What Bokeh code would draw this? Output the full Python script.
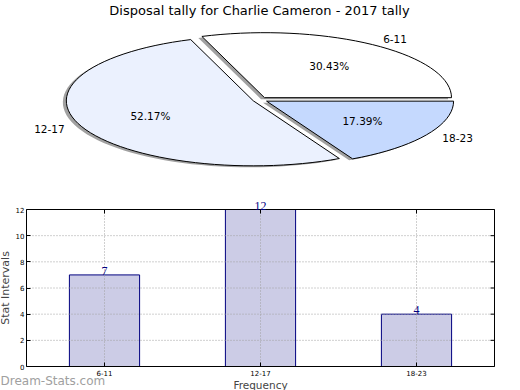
import math
from bokeh.plotting import figure
from bokeh.layouts import column
from bokeh.models import (Range1d, Label, LabelSet, ColumnDataSource, FixedTicker,
                          FactorRange, LinearAxis, CategoricalAxis)
from bokeh.embed import file_html
from bokeh.resources import INLINE

title_text = "Disposal tally for Charlie Cameron - 2017 tally"
categories = ["6-11", "12-17", "18-23"]
counts = [7, 12, 4]
pie_colors = ["#ffffff", "#ebf1fe", "#c5d9fe"]
y_label = "Stat Intervals"
x_label = "Frequency"
watermark = "Dream-Stats.com"
y_ticks = [0, 2, 4, 6, 8, 10, 12]

FONT = "DejaVu Sans"
W = 520

# ---------- pie (frame covers the whole figure, 1 unit = 1 px) ----------
PH = 193
pie = figure(frame_width=W, frame_height=PH, x_range=Range1d(0, W), y_range=Range1d(PH, 0),
             output_backend="svg", toolbar_location=None, min_border=0,
             x_axis_location=None, y_axis_location=None)
pie.grid.visible = False
pie.outline_line_color = None

cx, cy = 259.7, 99.3
rx, ry = 187.0, 65.0
explode = 0.04
total = float(sum(counts))

shadow_xs, shadow_ys, xs, ys = [], [], [], []
lab_x, lab_y, lab_align, pct_x, pct_y, pct_txt = [], [], [], [], [], []
start = 0.0
for c in counts:
    frac = c / total
    t1, t2 = start, start + frac * 2 * math.pi
    mid = (t1 + t2) / 2
    ax = cx + explode * rx * math.cos(mid)
    ay = cy - explode * ry * math.sin(mid)
    n_pts = max(8, int(120 * frac))
    px = [ax] + [ax + rx * math.cos(t1 + (t2 - t1) * i / n_pts) for i in range(n_pts + 1)]
    py = [ay] + [ay - ry * math.sin(t1 + (t2 - t1) * i / n_pts) for i in range(n_pts + 1)]
    xs.append(px)
    ys.append(py)
    shadow_xs.append([v - 3.5 for v in px])
    shadow_ys.append([v + 1.5 for v in py])
    lab_x.append(ax + 1.1 * rx * math.cos(mid))
    lab_y.append(ay - 1.1 * ry * math.sin(mid))
    lab_align.append("left" if math.cos(mid) > 0 else "right")
    pct_x.append(ax + 0.6 * rx * math.cos(mid))
    pct_y.append(ay - 0.6 * ry * math.sin(mid))
    pct_txt.append("%.2f%%" % (100 * frac))
    start = t2

pie.patches(shadow_xs, shadow_ys, fill_color="#444444", fill_alpha=0.5, line_color=None)
pie.patches(xs, ys, fill_color=pie_colors, line_color="black", line_width=1)

for i, cat in enumerate(categories):
    pie.add_layout(Label(x=lab_x[i], y=lab_y[i], text=cat, text_font=FONT, text_font_size="10.5px",
                         text_align=lab_align[i], text_baseline="middle", text_color="black"))
    pie.add_layout(Label(x=pct_x[i], y=pct_y[i], text=pct_txt[i], text_font=FONT, text_font_size="10.5px",
                         text_align="center", text_baseline="middle", text_color="black"))

pie.add_layout(Label(x=259, y=10, text=title_text, text_font=FONT, text_font_size="13px",
                     text_align="center", text_baseline="middle", text_color="black"))

# ---------- bars (frame covers the whole figure; axes pinned inside) ----------
BH = 390 - PH              # figure height
top_px, zero_px, y_top_val = 209 - PH, 366 - PH, y_ticks[-1]   # pixel rows inside figure
ppu = (zero_px - top_px) / y_top_val
y_start = -(BH - zero_px) / ppu
y_end = y_top_val + top_px / ppu
n = len(categories)
ppx = 468.0 / n
pad = (W / ppx - n) / 2.0
tick_y = 4.0 / ppu
tick_x = 4.0 / ppx

bar = figure(frame_width=W, frame_height=BH,
             x_range=FactorRange(*categories, range_padding=pad, range_padding_units="absolute"),
             y_range=Range1d(y_start, y_end),
             output_backend="svg", toolbar_location=None, min_border=0,
             x_axis_location=None, y_axis_location=None)
bar.grid.visible = False
bar.outline_line_color = None

src = ColumnDataSource(dict(x=categories, top=counts, txt=[str(v) for v in counts]))
bar.vbar(x="x", top="top", width=0.45, source=src, fill_color="#ccccE6", line_color="#00007f", line_width=1)

grid_y = y_ticks[1:-1]
bar.segment(x0=[0] * len(grid_y), y0=grid_y, x1=[n] * len(grid_y), y1=grid_y,
            line_color="#a0a0a0", line_dash="1 2", line_width=1)
bar.segment(x0=categories, y0=[0] * n, x1=categories, y1=[y_top_val] * n,
            line_color="#a0a0a0", line_dash="1 2", line_width=1)

# right and top spines with inward ticks
bar.segment(x0=[n, 0], y0=[0, y_top_val], x1=[n, n], y1=[y_top_val, y_top_val],
            line_color="black", line_width=1)
bar.segment(x0=[n] * len(y_ticks), y0=y_ticks, x1=[n - tick_x] * len(y_ticks), y1=y_ticks,
            line_color="black", line_width=1)
bar.segment(x0=categories, y0=[y_top_val] * n, x1=categories, y1=[y_top_val - tick_y] * n,
            line_color="black", line_width=1)

bar.add_layout(LabelSet(x="x", y="top", text="txt", source=src, text_font=FONT, text_font_size="12px",
                        text_align="center", text_baseline="bottom", text_color="#00007f"))


def style(a):
    a.major_label_text_font = FONT
    a.major_label_text_font_size = "7px"
    a.major_label_text_color = "black"
    a.major_tick_in = 4
    a.major_tick_out = 0
    a.minor_tick_in = 0
    a.minor_tick_out = 0
    a.major_label_standoff = 2
    a.axis_label_text_font = FONT
    a.axis_label_text_font_size = "11px"
    a.axis_label_text_font_style = "normal"
    a.axis_label_standoff = 1
    a.axis_line_color = "black"
    a.major_tick_line_color = "black"


left = LinearAxis(ticker=FixedTicker(ticks=y_ticks), bounds=(0, y_top_val), fixed_location=0,
                  axis_label=y_label)
style(left)
bottom = CategoricalAxis(bounds=(0, n), fixed_location=0, axis_label=x_label)
style(bottom)
bottom.major_label_standoff = 3
bottom.axis_label_standoff = 0
bottom.axis_label_text_font_size = "10.5px"

bar.add_layout(left, "left")
bar.add_layout(bottom, "below")

bar.add_layout(Label(x=0, y=3, x_units="screen", y_units="screen", text=watermark, text_font=FONT,
                     text_font_size="12px", text_color="#a0a0a0", text_align="left", text_baseline="bottom"))

layout = column(pie, bar, spacing=0)
open("out.html", "w").write(file_html(layout, INLINE))
